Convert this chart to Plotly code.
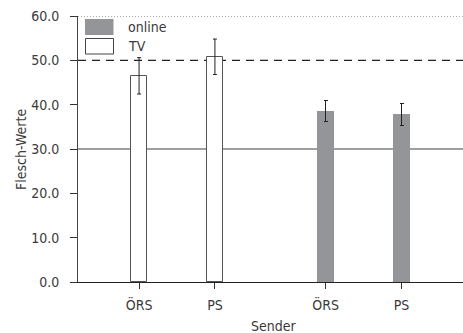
import plotly.graph_objects as go

# ---- data ----
groups = ["TV", "online"]
senders = ["ÖRS", "PS"]
tv_means = [46.5, 50.8]
tv_errors = [4.1, 4.0]
online_means = [38.65, 37.85]
online_errors = [2.4, 2.45]
y_ticks = [0, 10, 20, 30, 40, 50, 60]
ref_solid = 30
ref_dashed = 50
ref_dotted = 60
x_title = "Sender"
y_title = "Flesch-Werte"

# ---- layout helpers ----
W, H = 463, 333
L, R, T, B = 78, 0, 16, 51
PW, PH = W - L - R, H - T - B
group_gap = 2.46
x_tv = [i for i in range(len(senders))]
x_on = [i + group_gap for i in range(len(senders))]


def px(x):
    return (x - L) / PW


def py(y):
    return (H - B - y) / PH


FONT = "DejaVu Sans Condensed, Liberation Sans, Arial, sans-serif"
TXT = "#3a3a3a"
GRAY = "#939598"

fig = go.Figure()
fig.add_trace(go.Bar(
    x=x_tv, y=tv_means, name=groups[0], width=0.218,
    marker=dict(color="white", line=dict(color="#555555", width=1)),
    error_y=dict(type="data", array=tv_errors, color="#222222", thickness=1, width=2),
    showlegend=False,
))
fig.add_trace(go.Bar(
    x=x_on, y=online_means, name=groups[1], width=0.218,
    marker=dict(color=GRAY, line=dict(width=0)),
    error_y=dict(type="data", array=online_errors, color="#222222", thickness=1, width=2),
    showlegend=False,
))

# reference lines (below bars)
fig.add_shape(type="line", xref="paper", yref="y", x0=0, x1=1, y0=ref_solid, y1=ref_solid,
              line=dict(color="#7f7f7f", width=1.5), layer="below")
fig.add_shape(type="line", xref="paper", yref="y", x0=0, x1=1, y0=ref_dashed, y1=ref_dashed,
              line=dict(color="#222222", width=1.2, dash="8px,6px"), layer="below")
fig.add_shape(type="line", xref="paper", yref="y", x0=0, x1=1, y0=ref_dotted, y1=ref_dotted,
              line=dict(color="#555555", width=1, dash="1px,2px"), layer="below")

# manual legend
fig.add_shape(type="rect", xref="paper", yref="paper",
              x0=px(85), x1=px(113.5), y0=py(35), y1=py(19),
              fillcolor=GRAY, line=dict(width=0))
fig.add_shape(type="rect", xref="paper", yref="paper",
              x0=px(85.5), x1=px(113.5), y0=py(54), y1=py(38.5),
              fillcolor="white", line=dict(color="#444444", width=1))
fig.add_annotation(xref="paper", yref="paper", x=px(126), y=py(27), text=groups[1],
                   showarrow=False, xanchor="left", yanchor="middle",
                   font=dict(family=FONT, size=14, color=TXT))
fig.add_annotation(xref="paper", yref="paper", x=px(126), y=py(46), text=groups[0],
                   showarrow=False, xanchor="left", yanchor="middle",
                   font=dict(family=FONT, size=14, color=TXT))

# axis titles
fig.add_annotation(xref="paper", yref="paper", x=px(273), y=py(326), text=x_title,
                   showarrow=False, xanchor="center", yanchor="middle",
                   font=dict(family=FONT, size=14, color=TXT))
fig.add_annotation(xref="paper", yref="paper", x=px(21), y=py(150), text=y_title,
                   showarrow=False, xanchor="center", yanchor="middle", textangle=-90,
                   font=dict(family=FONT, size=14, color=TXT))

fig.update_layout(
    width=W, height=H,
    margin=dict(l=L, r=R, t=T, b=B, pad=0),
    paper_bgcolor="white", plot_bgcolor="white",
    bargap=0,
    font=dict(family=FONT, size=14, color=TXT),
    xaxis=dict(
        range=[-0.805, 4.27], tickmode="array",
        tickvals=x_tv + x_on, ticktext=senders + senders,
        showgrid=False, zeroline=False,
        showline=True, linecolor="#222222", linewidth=1.2,
        ticks="outside", ticklen=6, tickcolor="#333333", tickwidth=1,
        ticklabelstandoff=4,
        tickfont=dict(family=FONT, size=14, color=TXT),
    ),
    yaxis=dict(
        range=[0, 60], tickmode="array", tickvals=y_ticks, tickformat=".1f",
        showgrid=False, zeroline=False,
        showline=True, linecolor="#444444", linewidth=1,
        ticks="outside", ticklen=7, tickcolor="#333333", tickwidth=1,
        ticklabelstandoff=8,
        tickfont=dict(family=FONT, size=14, color=TXT),
    ),
)

fig.write_html("out.html")
